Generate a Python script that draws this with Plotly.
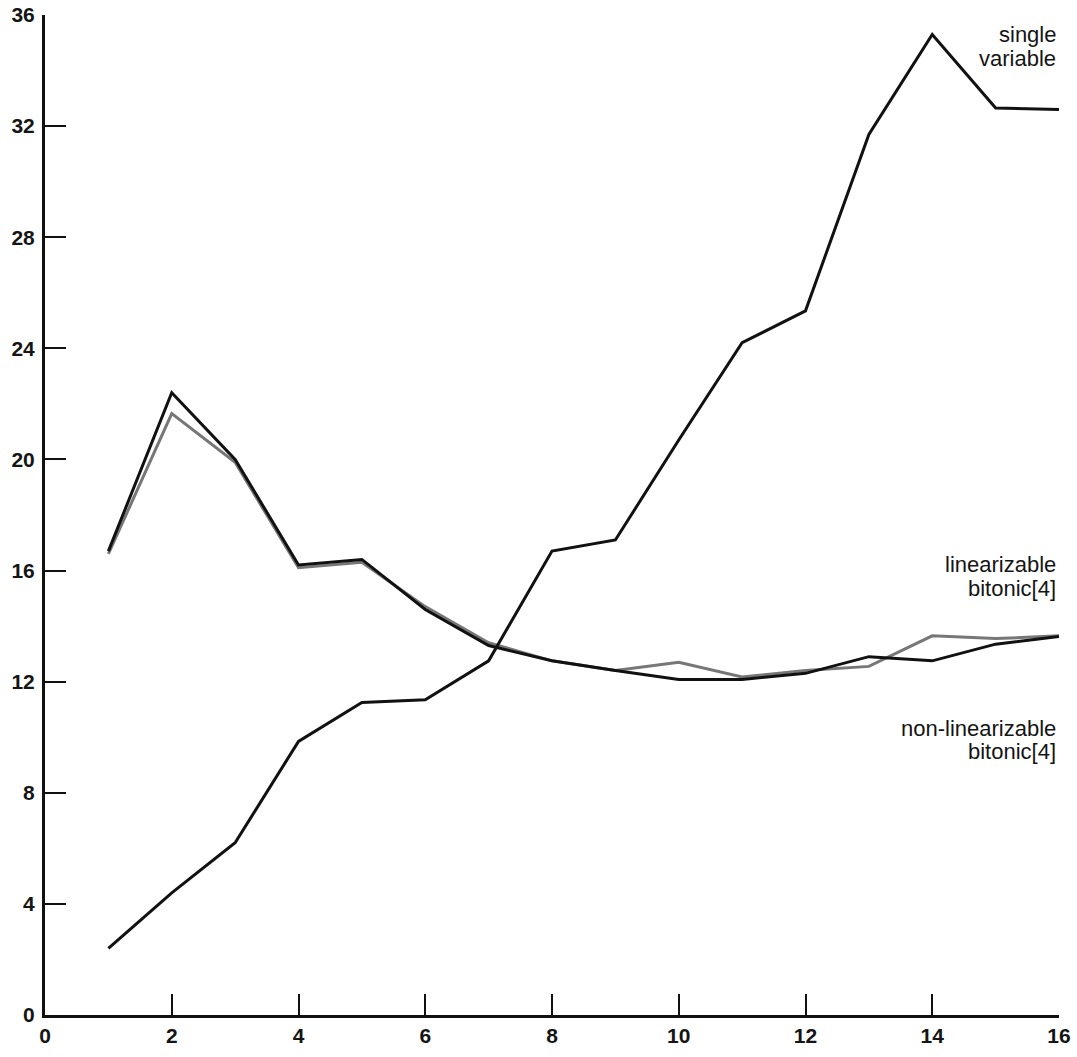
import plotly.graph_objects as go

x_vals = list(range(1, 17))

single_variable = [2.4, 4.4, 6.2, 9.85, 11.25, 11.35, 12.75, 16.7, 17.1, 20.7,
                   24.2, 25.35, 31.7, 35.3, 32.65, 32.6]
linearizable_bitonic4 = [16.7, 22.4, 20.0, 16.2, 16.4, 14.6, 13.3, 12.75, 12.4, 12.08,
                         12.08, 12.3, 12.9, 12.75, 13.35, 13.63]
nonlinearizable_bitonic4 = [16.6, 21.65, 19.9, 16.1, 16.3, 14.7, 13.4, 12.75, 12.4, 12.7,
                            12.17, 12.4, 12.55, 13.65, 13.55, 13.65]

x_ticks = list(range(0, 17, 2))
y_ticks = list(range(0, 37, 4))

label_lines = ["single", "variable", "linearizable", "bitonic[4]", "non-linearizable", "bitonic[4]"]
label_y = [35.29, 34.45, 16.21, 15.37, 10.33, 9.50]

label_font = dict(family="Liberation Sans, Arial, sans-serif", size=22, color="#151515")

fig = go.Figure()
fig.add_trace(go.Scatter(x=x_vals, y=nonlinearizable_bitonic4, mode="lines",
                         line=dict(color="#777777", width=3), name="non-linearizable bitonic[4]"))
fig.add_trace(go.Scatter(x=x_vals, y=linearizable_bitonic4, mode="lines",
                         line=dict(color="#111", width=3), name="linearizable bitonic[4]"))
fig.add_trace(go.Scatter(x=x_vals, y=single_variable, mode="lines",
                         line=dict(color="#111", width=3), name="single variable"))

for yv, txt in zip(label_y, label_lines):
    fig.add_annotation(x=16, y=yv, xref="x", yref="y", text=txt, showarrow=False,
                       xanchor="right", yanchor="middle", align="right", xshift=-1,
                       font=label_font)

axis_common = dict(showgrid=False, zeroline=False, showline=True, linecolor="#111", linewidth=3,
                   ticks="inside", ticklen=21, tickwidth=2, tickcolor="#111", automargin=False,
                   ticklabeloverflow="allow",
                   tickfont=dict(family="Liberation Sans, Arial, sans-serif", size=21,
                                 color="#151515", weight="bold"))

fig.update_xaxes(range=[0, 16], tickvals=x_ticks, ticktext=[str(v) for v in x_ticks],
                 ticklabelstandoff=0, **axis_common)
fig.update_yaxes(range=[0, 36], tickvals=y_ticks, ticktext=[str(v) for v in y_ticks],
                 ticklabelstandoff=3, **axis_common)

fig.update_layout(width=1077, height=1057, showlegend=False,
                  paper_bgcolor="white", plot_bgcolor="white",
                  margin=dict(l=45, r=18, t=15, b=42))

# remove the browser's default 8px body margin so the figure fills the window exactly
fig.write_html("out.html", config={"displayModeBar": False},
               post_script="document.body.style.margin='0';")
